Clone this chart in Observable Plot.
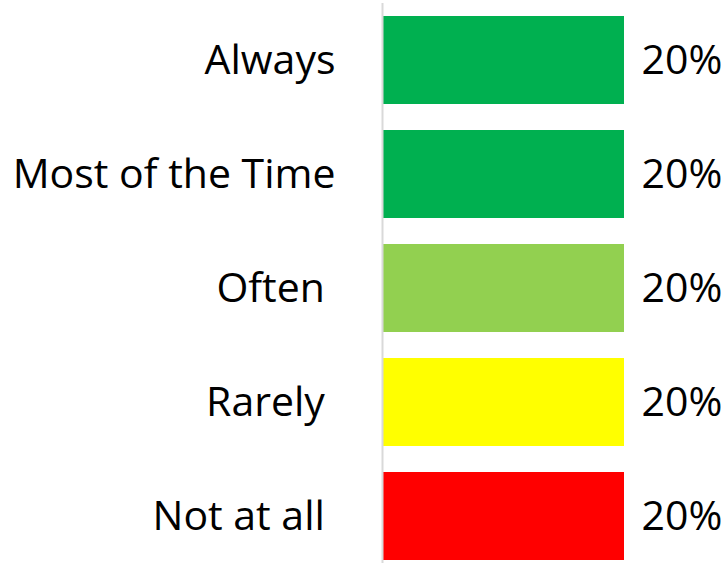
<!DOCTYPE html>
<html>
<head>
<meta charset="utf-8">
<script src="https://cdn.jsdelivr.net/npm/d3@7"></script>
<script src="https://cdn.jsdelivr.net/npm/@observablehq/plot@0.6"></script>
<style>
  html, body { margin: 0; padding: 0; background: #fff; }
  #chart svg { display: block; }
</style>
</head>
<body>
<div id="chart"></div>
<script>
// Response frequency categories, top to bottom
const categories = ["Always", "Most of the Time", "Often\u00a0", "Rarely\u00a0", "Not at all\u00a0"];
const shares = [0.20, 0.20, 0.20, 0.20, 0.20];
const colors = ["#00b050", "#00b050", "#92d050", "#ffff00", "#ff0000"];

const rows = categories.map((c, i) => ({category: c, share: shares[i], color: colors[i]}));

const chart = Plot.plot({
  width: 725,
  height: 563,
  marginTop: 3,
  marginBottom: 0,
  marginLeft: 383,
  marginRight: 101,
  style: {fontFamily: "'Open Sans', sans-serif", fontSize: "41px", color: "#000", background: "#fff"},
  x: {domain: [0, 0.2], axis: null},
  y: {domain: categories, range: [3, 573], paddingInner: 0.228, paddingOuter: 0.114, label: null},
  marks: [
    Plot.axisY({tickSize: 0, tickPadding: 48, fontSize: 41, label: null}),
    Plot.barX(rows, {y: "category", x: "share", fill: "color"}),
    Plot.ruleX([0], {stroke: "#d9d9d9", strokeWidth: 2, dx: -1}),
    Plot.text(rows, {
      y: "category", x: "share",
      text: d => d3.format(".0%")(d.share),
      textAnchor: "start", dx: 17, fontSize: 41, fill: "#000"
    })
  ]
});

document.getElementById("chart").append(chart);
</script>
</body>
</html>
